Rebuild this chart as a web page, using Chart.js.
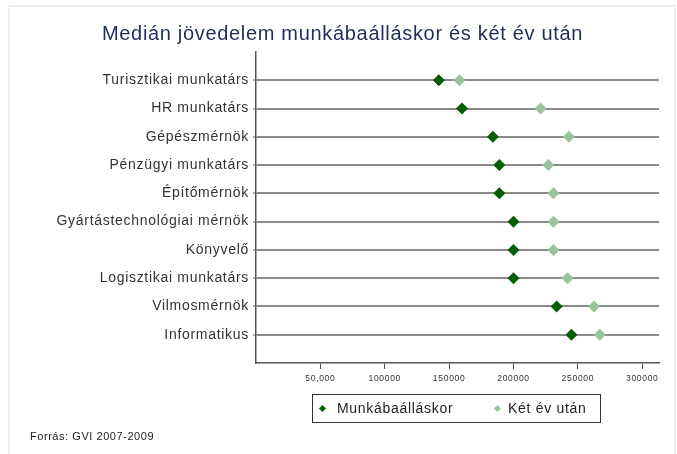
<!DOCTYPE html>
<html>
<head>
<meta charset="utf-8">
<script src="https://cdn.jsdelivr.net/npm/chart.js@4.4.1/dist/chart.umd.min.js"></script>
<style>
    body { margin: 0; background: #fff; font-family: "Liberation Sans", Arial, sans-serif; }
    #wrap { position: relative; width: 677px; height: 454px; overflow: hidden; }
    #frame { position: absolute; left: 8px; top: 5px; width: 664px; height: 460px; border: 2px solid #e9f0f2; }
    #title { position: absolute; left: 0; width: 685px; top: 22px; text-align: center; font-size: 20px; letter-spacing: 0.68px; color: #1f2d5c; }
    #legend { position: absolute; left: 312px; top: 394px; width: 289px; height: 29px; border: 1px solid #333; box-sizing: border-box; font-size: 14px; letter-spacing: 0.7px; color: #222; }
    .item { position: absolute; top: 6px; line-height: 15px; }
    .dia { position: absolute; width: 5px; height: 5px; transform: rotate(45deg); }
    #note { position: absolute; left: 30px; top: 430px; font-size: 11px; letter-spacing: 0.55px; color: #222; }
    canvas { position: absolute; left: 0; top: 0; }
</style>
</head>
<body>
<div id="wrap">
    <div id="frame"></div>
    <canvas id="chart" width="677" height="454"></canvas>
    <div id="title">Medián jövedelem munkábaálláskor és két év után</div>
    <div id="legend">
        <div class="dia" style="left:7px;top:11px;background:#005e00"></div>
        <div class="item" style="left:24px">Munkábaálláskor</div>
        <div class="dia" style="left:182px;top:11px;background:#99c49b"></div>
        <div class="item" style="left:195px">Két év után</div>
    </div>
    <div id="note">Forrás: GVI 2007-2009</div>
</div>
<script>
const categories = [
    "Turisztikai munkatárs", "HR munkatárs", "Gépészmérnök", "Pénzügyi munkatárs",
    "Építőmérnök", "Gyártástechnológiai mérnök", "Könyvelő", "Logisztikai munkatárs",
    "Vilmosmérnök", "Informatikus"
];
const munkabaallaskor = [142000, 160000, 184000, 189000, 189000, 200000, 200000, 200000, 233500, 245000];
const ketEvUtan = [158000, 221000, 243000, 227000, 231000, 231000, 231000, 242000, 262500, 267000];
const xTickValues = [50000, 100000, 150000, 200000, 250000, 300000];
const xTickLabels = ["50,000", "100000", "150000", "200000", "250000", "300000"];

const fontFamily = '"Liberation Sans", Arial, sans-serif';

function pontok(valores) {
    return valores.map((v, i) => ({ x: v, y: i + 1 }));
}

// texto um pouco mais espaçado, como no original
const espacamento = {
    id: "espacamento",
    beforeDraw(chart) { chart.ctx.letterSpacing = "0.7px"; }
};

new Chart(document.getElementById("chart").getContext("2d"), {
    type: "scatter",
    data: {
        datasets: [
            {
                label: "Munkábaálláskor",
                data: pontok(munkabaallaskor),
                pointStyle: "rectRot",
                pointRadius: 6,
                backgroundColor: "#005e00",
                borderColor: "#005e00",
                borderWidth: 0
            },
            {
                label: "Két év után",
                data: pontok(ketEvUtan),
                pointStyle: "rectRot",
                pointRadius: 6,
                backgroundColor: "#99c49b",
                borderColor: "#99c49b",
                borderWidth: 0
            }
        ]
    },
    plugins: [espacamento],
    options: {
        responsive: false,
        animation: false,
        layout: { padding: { top: 52, right: 18, left: 0, bottom: 0 } },
        plugins: { legend: { display: false }, tooltip: { enabled: false } },
        scales: {
            x: {
                type: "linear",
                min: 0,
                max: 313000,
                afterBuildTicks: s => { s.ticks = xTickValues.map(v => ({ value: v })); },
                afterFit: s => { s.height = 91; },
                ticks: {
                    callback: (v, i) => xTickLabels[i],
                    font: { size: 8.5, family: fontFamily },
                    color: "#333",
                    maxRotation: 0,
                    autoSkip: false,
                    padding: 5
                },
                grid: { drawOnChartArea: false, tickLength: 6, tickColor: "#555", tickWidth: 1 },
                border: { color: "#555", width: 1.5 }
            },
            y: {
                type: "linear",
                reverse: true,
                min: 0,
                max: 11,
                afterBuildTicks: s => { s.ticks = categories.map((_, i) => ({ value: i + 1 })); },
                afterFit: s => { s.width = 256; },
                ticks: {
                    callback: v => categories[v - 1],
                    font: { size: 14, family: fontFamily },
                    color: "#333",
                    padding: 4,
                    autoSkip: false
                },
                grid: { color: "#8a8a8a", lineWidth: 2, tickLength: 3, tickColor: "#666", tickWidth: 1 },
                border: { color: "#555", width: 1.5 }
            }
        }
    }
});
</script>
</body>
</html>
